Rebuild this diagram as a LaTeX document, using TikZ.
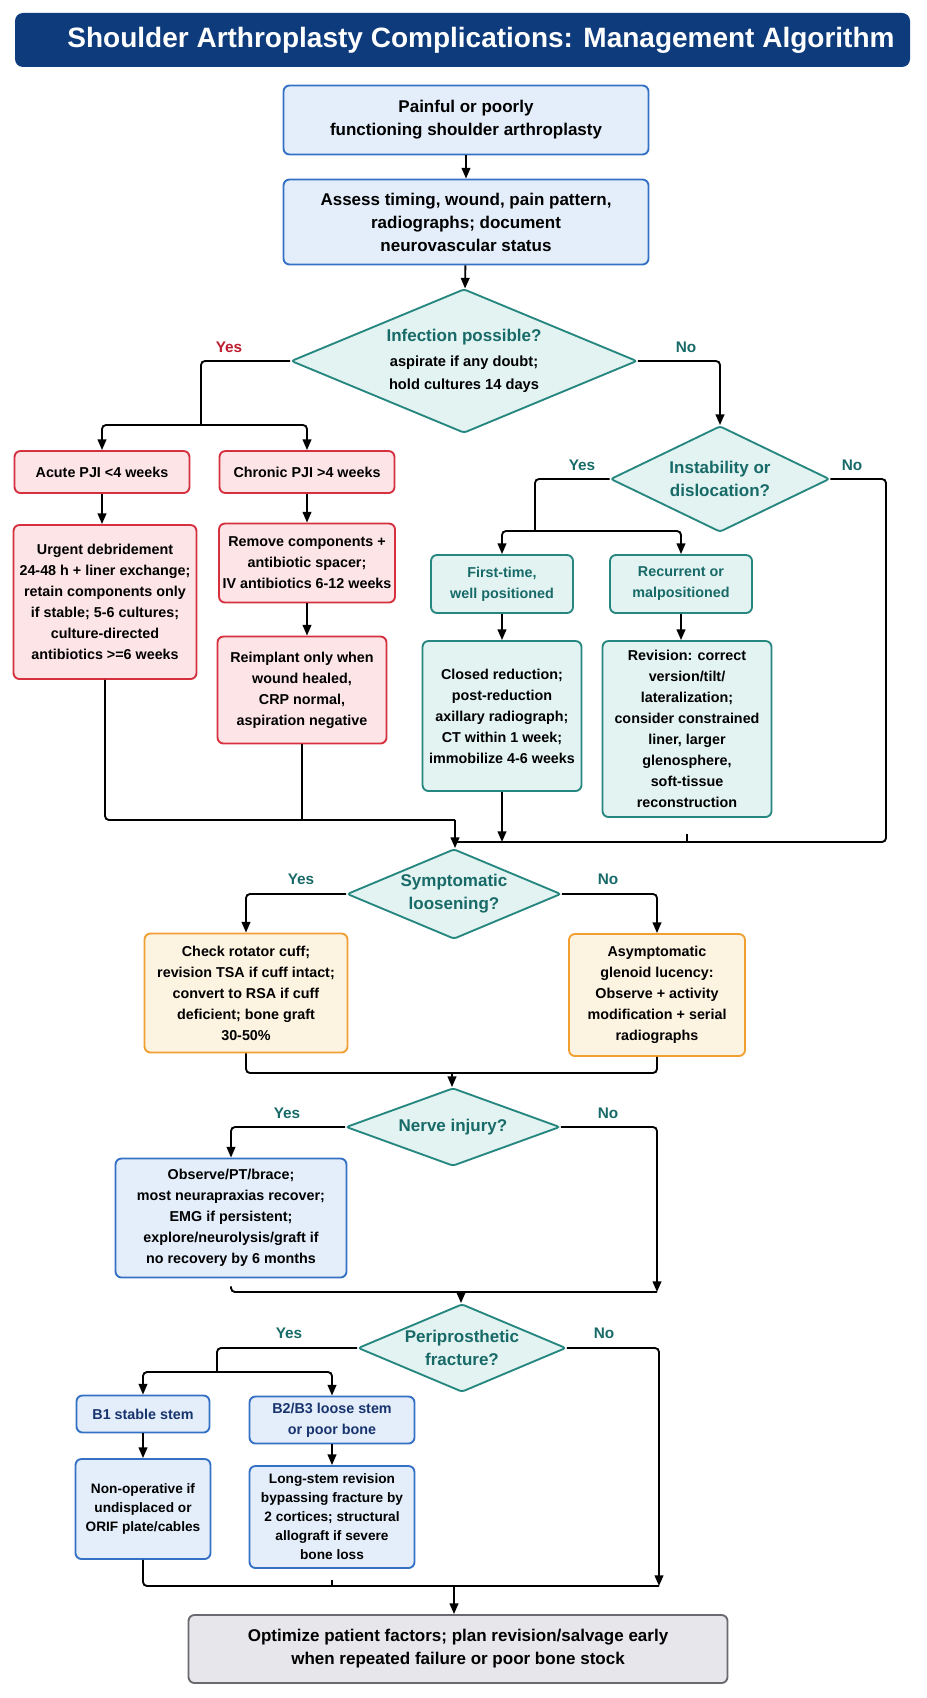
\documentclass[tikz,border=0pt]{standalone}
\usepackage{fontspec}
\setmainfont{Liberation Sans}
\usetikzlibrary{shapes.geometric,arrows.meta}

\definecolor{navy}{RGB}{14,59,124}
\definecolor{bluebd}{RGB}{52,112,196}
\definecolor{bluefl}{RGB}{227,238,250}
\definecolor{bluetx}{RGB}{24,52,110}
\definecolor{redbd}{RGB}{214,48,63}
\definecolor{redfl}{RGB}{252,228,231}
\definecolor{tealbd}{RGB}{38,134,128}
\definecolor{tealfl}{RGB}{226,243,241}
\definecolor{tealtx}{RGB}{24,106,104}
\definecolor{orgbd}{RGB}{240,160,48}
\definecolor{orgfl}{RGB}{253,243,225}
\definecolor{graybd}{RGB}{105,105,112}
\definecolor{grayfl}{RGB}{230,230,235}
\definecolor{yesred}{RGB}{190,30,45}

\tikzset{every picture/.style={line width=0.75pt}}
\tikzset{
  sz/.style 2 args={minimum width=#1*0.75pt, minimum height=#2*0.75pt},
  box/.style={draw, rounded corners=4.5pt, line width=1.4pt, align=center, inner sep=2pt, font=\bfseries\fontsize{10.75}{15.75}\selectfont},
  bigtext/.style={font=\bfseries\fontsize{12.75}{17.25}\selectfont},
  smalltext/.style={font=\bfseries\fontsize{10.25}{14.25}\selectfont},
  bluebox/.style={box, draw=bluebd, fill=bluefl},
  redbox/.style={box, draw=redbd, fill=redfl},
  tealbox/.style={box, draw=tealbd, fill=tealfl},
  orgbox/.style={box, draw=orgbd, fill=orgfl},
  graybox/.style={box, draw=graybd, fill=grayfl},
  dec/.style={diamond, draw=tealbd, fill=tealfl, line width=1.4pt, rounded corners=2pt, inner sep=0pt, align=center, text=tealtx, bigtext},
  link/.style={line width=1.4pt, rounded corners=3pt},
  arr/.style={link, -{Triangle[length=8pt,width=6.5pt]}},
  yeslab/.style={font=\bfseries\fontsize{11.5}{14}\selectfont, text=tealtx},
}

\begin{document}
\begin{tikzpicture}[x=0.75pt,y=0.75pt,yscale=-1,xscale=1]
\path[use as bounding box] (0,0) rectangle (926,1698);

%Shape: Title banner
\draw [draw=none, fill=navy, rounded corners=6pt] (15,13) rectangle (910,67);
% Text Node
\node (title) [text=white, font=\bfseries\fontsize{21}{25}\selectfont] at (481,40) {Shoulder Arthroplasty Complications: Management Algorithm};

%Shape: Start boxes
\node (start) [bluebox, bigtext, sz={365}{69}] at (466,120) {Painful or poorly\\functioning shoulder arthroplasty};
\node (assess) [bluebox, bigtext, sz={365}{85}] at (466,222) {Assess timing, wound, pain pattern,\\radiographs; document\\neurovascular status};

%Shape: Infection diamond
\node (infect) [dec, aspect=2.4, sz={346}{144}] at (464,361) {Infection possible?\\[1pt]
  {\color{black}\fontsize{11}{14}\selectfont aspirate if any doubt;}\\
  {\color{black}\fontsize{11}{14}\selectfont hold cultures 14 days}};

%Shape: PJI branch
\node (acute) [redbox, sz={175}{42}] at (102,472) {Acute PJI <4 weeks};
\node (chronic) [redbox, sz={175}{42}] at (307,472) {Chronic PJI >4 weeks};
\node (urgent) [redbox, sz={183}{154}] at (105,602) {Urgent debridement\\24-48 h + liner exchange;\\retain components only\\if stable; 5-6 cultures;\\culture-directed\\antibiotics >=6 weeks};
\node (remove) [redbox, sz={176}{79}] at (307,563) {Remove components +\\antibiotic spacer;\\IV antibiotics 6-12 weeks};
\node (reimpl) [redbox, sz={169}{107}] at (302,690) {Reimplant only when\\wound healed,\\CRP normal,\\aspiration negative};

%Shape: Instability branch
\node (instab) [dec, aspect=2.07, sz={219}{106}] at (720,479) {Instability or\\dislocation?};
\node (first) [tealbox, text=tealtx, sz={142}{58}] at (502,584) {First-time,\\well positioned};
\node (recur) [tealbox, text=tealtx, sz={142}{58}] at (681,584) {Recurrent or\\malpositioned};
\node (closed) [tealbox, sz={159}{150}] at (502,716) {Closed reduction;\\post-reduction\\axillary radiograph;\\CT within 1 week;\\immobilize 4-6 weeks};
\node (revis) [tealbox, sz={169}{176}] at (687,729) {Revision: correct\\version/tilt/\\lateralization;\\consider constrained\\liner, larger\\glenosphere,\\soft-tissue\\reconstruction};

%Shape: Loosening branch
\node (loosen) [dec, aspect=2.38, sz={214}{90}] at (454,894) {Symptomatic\\loosening?};
\node (check) [orgbox, sz={203}{119}] at (246,993) {Check rotator cuff;\\revision TSA if cuff intact;\\convert to RSA if cuff\\deficient; bone graft\\30-50\%};
\node (asym) [orgbox, sz={176}{122}] at (657,995) {Asymptomatic\\glenoid lucency:\\Observe + activity\\modification + serial\\radiographs};

%Shape: Nerve branch
\node (nerve) [dec, aspect=2.74, sz={214}{78}] at (453,1127) {Nerve injury?};
\node (observe) [bluebox, sz={231}{119}] at (231,1218) {Observe/PT/brace;\\most neurapraxias recover;\\EMG if persistent;\\explore/neurolysis/graft if\\no recovery by 6 months};

%Shape: Fracture branch
\node (fract) [dec, aspect=2.36, sz={208}{88}] at (462,1348) {Periprosthetic\\fracture?};
\node (b1) [bluebox, text=bluetx, sz={133}{37}] at (143,1414) {B1 stable stem};
\node (b2) [bluebox, text=bluetx, sz={165}{47}] at (332,1420) {B2/B3 loose stem\\or poor bone};
\node (nonop) [bluebox, smalltext, sz={135}{100}] at (143,1509) {Non-operative if\\undisplaced or\\ORIF plate/cables};
\node (longstem) [bluebox, smalltext, sz={165}{102}] at (332,1517) {Long-stem revision\\bypassing fracture by\\2 cortices; structural\\allograft if severe\\bone loss};

%Shape: End box
\node (final) [graybox, bigtext, sz={539}{68}] at (458,1649) {Optimize patient factors; plan revision/salvage early\\when repeated failure or poor bone stock};

% Text Node: branch labels
\node (yes1) [yeslab, text=yesred] at (229,347) {Yes};
\node (no1) [yeslab] at (686,347) {No};
\node (yes2) [yeslab] at (582,465) {Yes};
\node (no2) [yeslab] at (852,465) {No};
\node (yes3) [yeslab] at (301,879) {Yes};
\node (no3) [yeslab] at (608,879) {No};
\node (yes4) [yeslab] at (287,1113) {Yes};
\node (no4) [yeslab] at (608,1113) {No};
\node (yes5) [yeslab] at (289,1333) {Yes};
\node (no5) [yeslab] at (604,1333) {No};

%Straight Lines: top
\draw [arr] (start) -- (assess);
\draw [arr] (assess) -- (infect);

%Straight Lines: infection
\coordinate (ysplit1) at (201,425);
\draw [link] (infect.west) -| (ysplit1);
\draw [arr] (ysplit1) -| (acute.north);
\draw [arr] (ysplit1) -| (chronic.north);
\draw [arr] (infect.east) -| (instab.north);
\draw [arr] (acute.south) -- (acute.south |- urgent.north);
\draw [arr] (chronic.south) -- (chronic.south |- remove.north);
\draw [arr] (remove.south) -- (remove.south |- reimpl.north);

%Straight Lines: instability
\coordinate (ysplit2) at (535,531);
\draw [link] (instab.west) -| (ysplit2);
\draw [arr] (ysplit2) -| (first.north);
\draw [arr] (ysplit2) -| (recur.north);
\draw [arr] (first.south) -- (first.south |- closed.north);
\draw [arr] (recur.south) -- (recur.south |- revis.north);

%Straight Lines: merge to loosening
\coordinate (join1) at (455,820);
\coordinate (join2) at (455,842);
\coordinate (nobend2) at (886,842);
\draw [link] (urgent.south) |- (join1);
\draw [link] (reimpl.south) -- (reimpl.south |- join1);
\draw [link] (instab.east) -| (nobend2) -- (join2);
\draw [arr] (closed.south) -- (closed.south |- join2);
\draw [link, shorten <=12pt] (revis.south) -- (revis.south |- join2);
\draw [arr] (join1) -- (join1 |- loosen.north);

%Straight Lines: loosening
\draw [arr] (loosen.west) -| (check.north);
\draw [arr] (loosen.east) -| (asym.north);
\coordinate (join3) at (452,1073);
\draw [link] (check.south) |- (join3) -| (asym.south);
\draw [arr] (join3) -- (join3 |- nerve.north);

%Straight Lines: nerve
\draw [arr] (nerve.west) -| (observe.north);
\coordinate (join4) at (461,1292);
\coordinate (nobend4) at (657,1292);
\draw [arr] (nerve.east) -| (nobend4);
\draw [link, shorten <=6pt] (observe.south) |- (nobend4);
\draw [arr] (join4) -- (join4 |- fract.north);

%Straight Lines: fracture
\coordinate (ysplit5) at (217,1372);
\draw [link] (fract.west) -| (ysplit5);
\draw [arr] (ysplit5) -| (b1.north);
\draw [arr] (ysplit5) -| (b2.north);
\draw [arr] (b1.south) -- (b1.south |- nonop.north);
\draw [arr] (b2.south) -- (b2.south |- longstem.north);
\coordinate (join5) at (454,1586);
\coordinate (nobend5) at (659,1586);
\draw [arr] (fract.east) -| (nobend5);
\draw [link] (nonop.south) |- (nobend5);
\draw [link, shorten <=8pt] (longstem.south) -- (longstem.south |- join5);
\draw [arr] (join5) -- (join5 |- final.north);

\end{tikzpicture}
\end{document}
